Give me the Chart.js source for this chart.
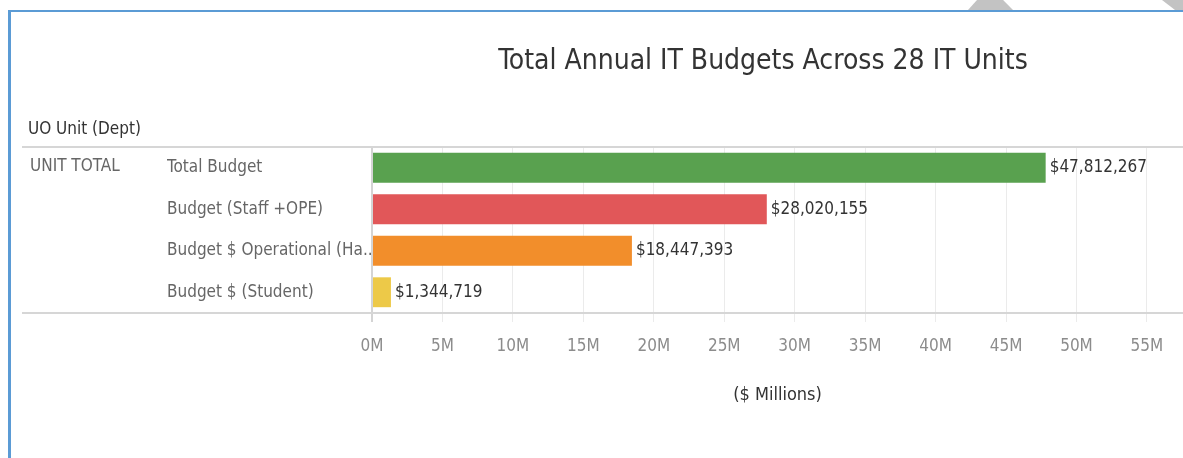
<!DOCTYPE html>
<html lang="en">
<head>
    <meta charset="UTF-8">
    <title>Total Annual IT Budgets</title>
    <script src="https://cdn.jsdelivr.net/npm/chart.js"></script>
    <style>
        body { margin: 0; background: #fff; overflow: hidden; }
        .page { position: relative; width: 1183px; height: 458px; }
        .edge-top { position: absolute; left: 8px; top: 10px; right: 0; height: 2px; background: #5b9bd5; }
        .edge-left { position: absolute; left: 8px; top: 10px; bottom: 0; width: 3px; background: #5b9bd5; }
        .notch { position: absolute; top: 0; height: 10px; background: #c3c3c3; }
        .notch.one { left: 968px; width: 45px; clip-path: polygon(20% 0, 78% 0, 100% 100%, 0 100%); }
        .notch.two { left: 1162px; width: 21px; clip-path: polygon(0 0, 100% 0, 100% 100%, 62% 100%); }
        canvas { position: absolute; left: 0; top: 0; }
    </style>
</head>
<body>
<div class="page">
    <div class="notch one"></div>
    <div class="notch two"></div>
    <div class="edge-top"></div>
    <div class="edge-left"></div>
    <canvas id="budgetChart" width="1183" height="458"></canvas>
</div>

<script>
    const categories = ['Total Budget', 'Budget (Staff +OPE)', 'Budget $ Operational (Ha..', 'Budget $ (Student)'];
    const budgets = [47812267, 28020155, 18447393, 1344719];
    const barColors = ['#59a14f', '#e15759', '#f28e2b', '#edc948'];
    const tickMillions = [0, 5, 10, 15, 20, 25, 30, 35, 40, 45, 50, 55];
    const axisMaxMillions = 57.56;

    const FONT = "'DejaVu Sans Condensed', 'Liberation Sans Narrow', sans-serif";
    Chart.defaults.font.family = FONT;

    // header texts, row group label and the two table rules
    const tableFrame = {
        id: 'tableFrame',
        afterDraw(chart) {
            const ctx = chart.ctx;
            const area = chart.chartArea;
            ctx.save();
            ctx.strokeStyle = '#d6d6d6';
            ctx.lineWidth = 2;
            [area.top, area.bottom].forEach(y => {
                ctx.beginPath();
                ctx.moveTo(22, y);
                ctx.lineTo(chart.width, y);
                ctx.stroke();
            });

            ctx.textBaseline = 'middle';
            ctx.fillStyle = '#333';
            ctx.textAlign = 'center';
            ctx.font = '28px ' + FONT;
            ctx.fillText('Total Annual IT Budgets Across 28 IT Units', 763, 62);

            ctx.textAlign = 'left';
            ctx.font = '17px ' + FONT;
            ctx.fillText('UO Unit (Dept)', 28, 130);

            ctx.fillStyle = '#666';
            ctx.fillText('UNIT TOTAL', 30, 167);
            ctx.restore();
        }
    };

    // dollar amount at the end of every bar
    const valueLabels = {
        id: 'valueLabels',
        afterDatasetsDraw(chart) {
            const ctx = chart.ctx;
            const meta = chart.getDatasetMeta(0);
            ctx.save();
            ctx.font = '17px ' + FONT;
            ctx.fillStyle = '#333';
            ctx.textAlign = 'left';
            ctx.textBaseline = 'middle';
            meta.data.forEach((bar, i) => {
                ctx.fillText('$' + budgets[i].toLocaleString('en-US'), bar.x + 4, bar.y);
            });
            ctx.restore();
        }
    };

    const ctx = document.getElementById('budgetChart').getContext('2d');
    const chart = new Chart(ctx, {
        type: 'bar',
        data: {
            labels: categories,
            datasets: [{
                data: budgets,
                backgroundColor: barColors,
                borderWidth: 0,
                barPercentage: 0.72,
                categoryPercentage: 1
            }]
        },
        options: {
            indexAxis: 'y',
            responsive: false,
            animation: false,
            layout: {
                padding: { top: 147, left: 167, right: 0, bottom: 52 }
            },
            plugins: {
                legend: { display: false },
                tooltip: { enabled: false }
            },
            scales: {
                x: {
                    min: 0,
                    max: axisMaxMillions * 1e6,
                    afterBuildTicks: scale => {
                        scale.ticks = tickMillions.map(m => ({ value: m * 1e6 }));
                    },
                    border: { display: false },
                    grid: {
                        color: c => c.tick && c.tick.value === 0 ? '#d4d4d4' : '#ebebeb',
                        lineWidth: c => c.tick && c.tick.value === 0 ? 2 : 1,
                        drawTicks: true,
                        tickLength: 9
                    },
                    ticks: {
                        padding: 14,
                        color: '#8c8c8c',
                        font: { size: 17 },
                        maxRotation: 0,
                        autoSkip: false,
                        callback: v => (v / 1e6) + 'M'
                    },
                    title: {
                        display: true,
                        text: '($ Millions)',
                        color: '#333',
                        font: { size: 18 },
                        padding: { top: 14, bottom: 0 }
                    }
                },
                y: {
                    afterFit: scale => { scale.width = 205; },
                    border: { display: false },
                    grid: { display: false },
                    ticks: {
                        crossAlign: 'far',
                        color: '#666',
                        font: { size: 17 }
                    }
                }
            }
        },
        plugins: [tableFrame, valueLabels]
    });
</script>
</body>
</html>
